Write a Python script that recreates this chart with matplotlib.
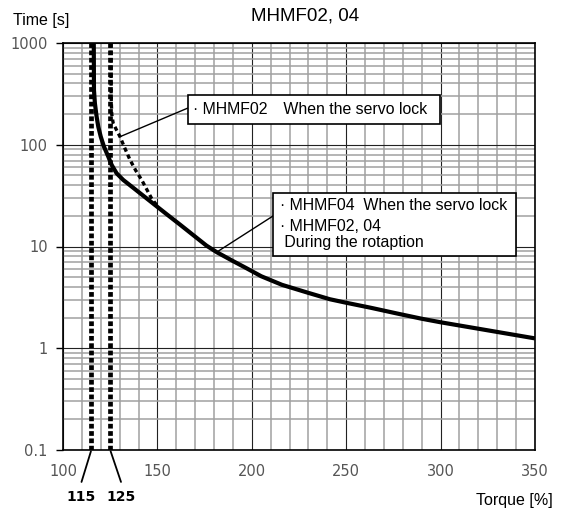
import matplotlib
matplotlib.use("Agg")
import matplotlib.pyplot as plt
from matplotlib.patches import Rectangle
from matplotlib.ticker import FixedLocator, NullFormatter, LogLocator

# Overload characteristic: operating time versus torque
rotation_torque = [116.3, 116.4, 116.9, 117.8, 118.7, 120.0, 121.7, 124.0, 125.8,
                   128.4, 131.9, 137.0, 144.0, 150.0, 155.0, 162.0, 170.0, 176.0,
                   181.4, 190.0, 197.3, 205.0, 216.0, 230.0, 241.4, 250.0, 263.0,
                   276.7, 290.0, 300.0, 325.0, 350.0]
rotation_time = [1000, 345, 255, 189, 150, 120, 95.7, 76.3, 63.2,
                 52.4, 45.1, 38.0, 30.0, 24.5, 20.7, 16.4, 12.5, 10.2,
                 8.8, 7.2, 6.1, 5.1, 4.2, 3.5, 3.03, 2.8, 2.5,
                 2.2, 1.95, 1.8, 1.5, 1.25]

lock02_torque = [125.4, 125.5, 125.8, 126.6, 128.4, 130.2, 132.8, 135.5, 138.5,
                 141.7, 144.5, 147.0, 150.0]
lock02_time = [1000, 300, 200, 162, 139, 120, 92, 71, 56,
               45, 36, 29.5, 25.0]

limit_torques = [115, 125]
limit_labels = ["115", "125"]

x_ticks = [100, 150, 200, 250, 300, 350]
y_ticks = [0.1, 1, 10, 100, 1000]
y_tick_labels = ["0.1", "1", "10", "100", "1000"]

title = "MHMF02, 04"
note_lock02 = "· MHMF02　When the servo lock"
note_rotation_lines = ["· MHMF04  When the servo lock", "· MHMF02, 04", " During the rotaption"]

W, H = 566, 513
fig = plt.figure(figsize=(W / 100, H / 100), dpi=100)
ax = fig.add_axes([63 / W, 63 / H, 472 / W, 407 / H])


def fx(px):
    return px / W


def fy(py):
    return 1 - py / H


ax.set_xlim(100, 350)
ax.set_yscale("log")
ax.set_ylim(0.1, 1000)

# grid: minor every 10 % and 2..9 per decade, major every 50 % and per decade
ax.xaxis.set_major_locator(FixedLocator(x_ticks))
ax.xaxis.set_minor_locator(FixedLocator(list(range(100, 351, 10))))
ax.yaxis.set_major_locator(FixedLocator(y_ticks))
ax.yaxis.set_minor_locator(LogLocator(base=10, subs=range(2, 10)))
ax.yaxis.set_minor_formatter(NullFormatter())
ax.set_xticklabels([str(v) for v in x_ticks])
ax.set_yticklabels(y_tick_labels)

ax.grid(which="minor", color="#a0a0a0", lw=1.1, zorder=0)
ax.grid(which="major", color="#222222", lw=0.8, zorder=0)
ax.set_axisbelow(True)

ax.tick_params(axis="x", which="both", length=0, pad=10, labelsize=10.5, labelcolor="#555555")
ax.tick_params(axis="y", which="major", length=5, width=1, pad=6, labelsize=10.5, labelcolor="#555555")
ax.tick_params(axis="y", which="minor", length=0)
for lab in ax.get_xticklabels() + ax.get_yticklabels():
    lab.set_family("DejaVu Sans")

for sp in ax.spines.values():
    sp.set_color("black")
    sp.set_linewidth(1.2)

# limit lines at 115 % and 125 %
for xv in limit_torques:
    ax.axvline(xv, color="black", lw=3.4, ls=(0, (1.0, 0.55)), zorder=3)

ax.plot(lock02_torque, lock02_time, color="black", lw=2.4, ls=(0, (1.3, 1.0)), zorder=4)
ax.plot(rotation_torque, rotation_time, color="black", lw=3.0, solid_joinstyle="round",
        solid_capstyle="butt", zorder=5)

fig.text(fx(305), fy(16), title, fontsize=13.5, family="Liberation Sans",
         ha="center", va="center")

fig.text(fx(13), fy(20), "Time [s]", fontsize=11.5, family="Liberation Sans",
         va="center", ha="left")
fig.text(fx(553), fy(500), "Torque [%]", fontsize=11.5, family="Liberation Sans",
         va="center", ha="right")

# callouts for the limit values below the axis
label_x = [81.5, 121]
for xv, lab, lx in zip(limit_torques, limit_labels, label_x):
    tx = 100 + (lx - 63) / 472 * 250
    ax.annotate("", xy=(xv, 0.1), xycoords="data",
                xytext=(tx, -23), textcoords=("data", "offset points"),
                arrowprops=dict(arrowstyle="-", color="black", lw=1.3,
                                shrinkA=0, shrinkB=1),
                annotation_clip=False)
    fig.text(fx(lx), fy(497), lab, fontsize=10, fontweight="bold",
             family="DejaVu Sans", ha="center", va="center")


def callout(left, top, right, bottom, target, anchor_y):
    fig.patches.append(Rectangle((fx(left), fy(bottom)), fx(right - left), (bottom - top) / H,
                                 transform=fig.transFigure, fc="white", ec="black",
                                 lw=1.2, zorder=6))
    ax.annotate("", xy=target, xycoords="data",
                xytext=(fx(left), fy(anchor_y)), textcoords="figure fraction",
                arrowprops=dict(arrowstyle="-", color="black", lw=1.0, shrinkA=0, shrinkB=0),
                zorder=6)


callout(188, 95, 440, 124, (130.2, 120), 108)
fig.text(fx(193), fy(110), note_lock02, fontsize=11.4,
         family=["Liberation Sans", "Noto Sans CJK JP"], ha="left", va="center", zorder=7)

callout(273, 193, 516, 256, (181.4, 8.8), 216)
for txt, yy in zip(note_rotation_lines, [206, 227, 243]):
    fig.text(fx(280), fy(yy), txt, fontsize=11.4, family="Liberation Sans",
             ha="left", va="center", zorder=7)

fig.savefig("out.png", dpi=100)
